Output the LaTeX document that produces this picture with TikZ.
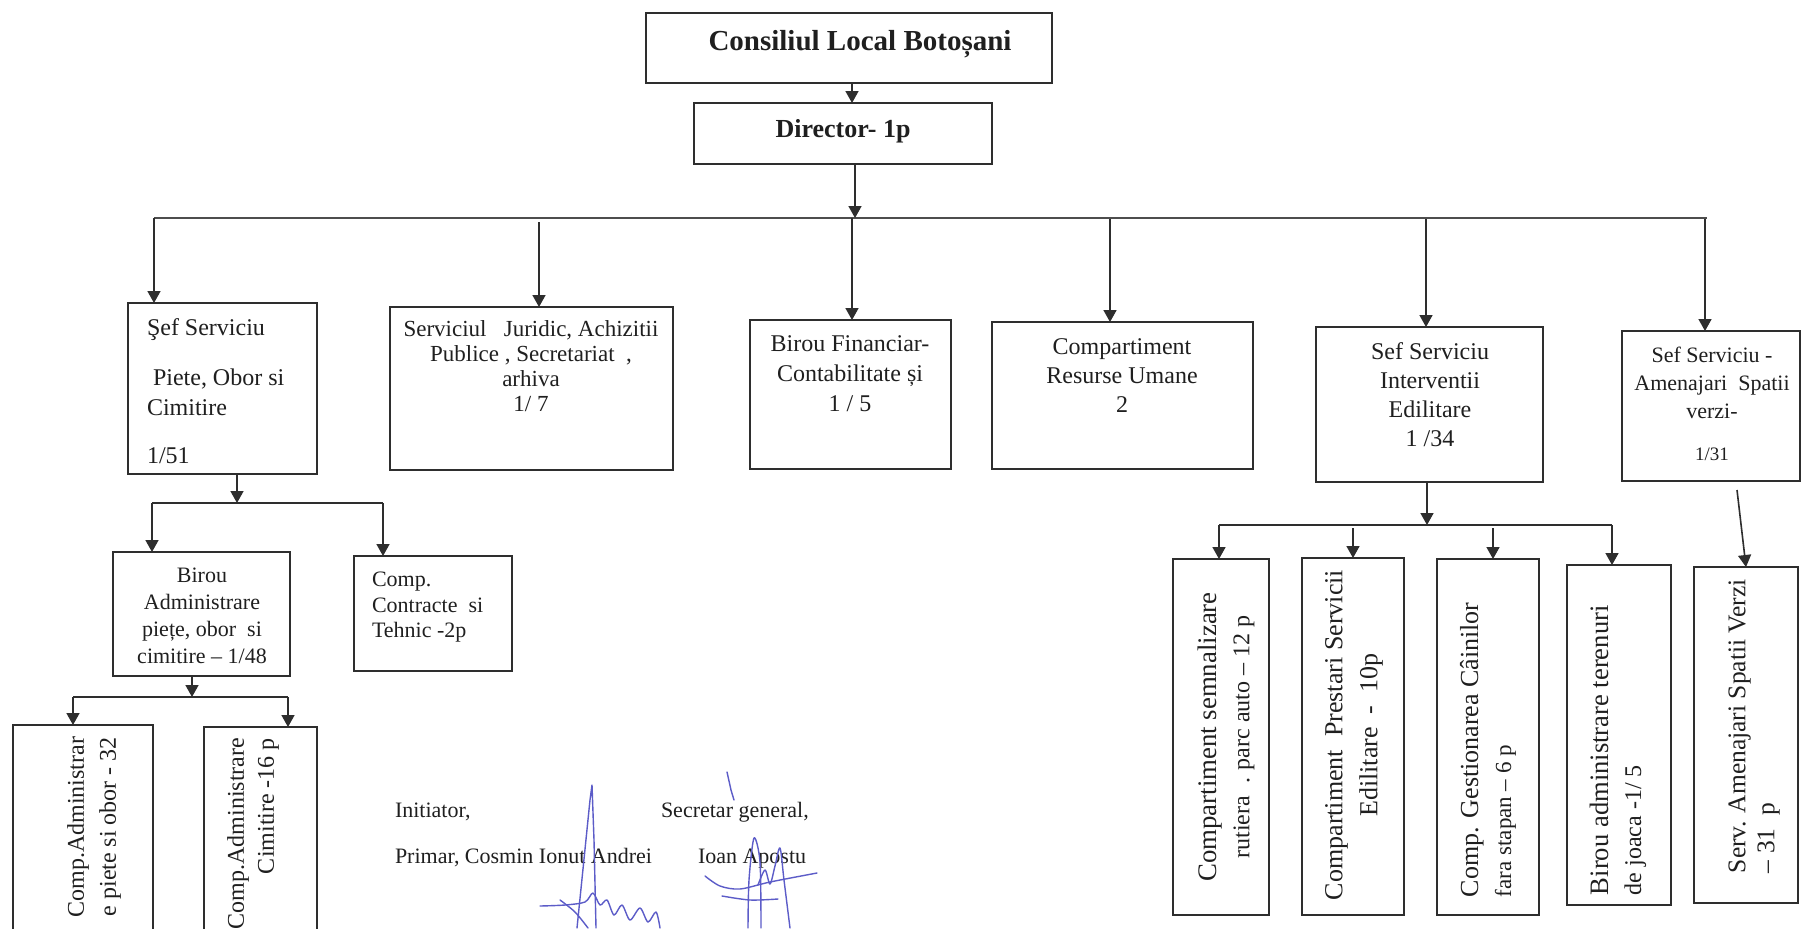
\documentclass[tikz,border=0pt]{standalone}
\usepackage{fontspec}
\setmainfont{Liberation Serif}
\usetikzlibrary{arrows.meta}
\definecolor{ink}{HTML}{2E2E2E}
\definecolor{sigblue}{RGB}{92,92,200}
\tikzset{
 box/.style={draw=ink, line width=0.9pt, inner sep=0pt, outer sep=0pt},
 arr/.style={draw=ink, line width=0.8pt, -{Triangle[width=6.5pt,length=6pt]}},
 ln/.style={draw=ink, line width=0.8pt},
 busline/.style={draw=ink!85, line width=1.3pt},
 txt/.style={inner sep=0pt, outer sep=0pt, text=black!88, font=\fontsize{12}{15}\selectfont},
 sign/.style={draw=sigblue, line width=0.7pt, line cap=round, line join=round},
}
\newcommand\boxat[5]{\node[box, minimum width={(#4-#2)*0.5pt}, minimum height={(#5-#3)*0.5pt}] (#1) at ({(#2+#4)/2},{(#3+#5)/2}) {};}
\begin{document}
\begin{tikzpicture}[x=0.5pt,y=-0.5pt]
\useasboundingbox (0,0) rectangle (1804,928);
\clip (0,0) rectangle (1804,928);
\fill[white] (0,0) rectangle (1804,928);

% ---- top
\boxat{cons}{646}{13}{1052}{83}
\node[txt, anchor=base, font=\fontsize{14.5}{17}\selectfont\bfseries] (tcons) at (860,50) {Consiliul Local Botoșani};
\boxat{dir}{694}{103}{992}{164}
\node[txt, anchor=base, font=\fontsize{13}{16}\selectfont\bfseries] (tdir) at (843,137) {Director- 1p};
\draw[arr] ([xshift=1.5pt]cons.south) -- ([xshift=1.5pt]cons.south |- dir.north);

% ---- main bus
\coordinate (busL) at (154,218);
\coordinate (busR) at (1707,218);
\draw[busline] (busL) -- (busR);
\draw[arr] ([xshift=6pt]dir.south) -- ([xshift=6pt]dir.south |- busL);

% ---- level 1 boxes
\boxat{sef}{128}{303}{317}{474}
\boxat{jur}{390}{307}{673}{470}
\boxat{fin}{750}{320}{951}{469}
\boxat{ru}{992}{322}{1253}{469}
\boxat{int}{1316}{327}{1543}{482}
\boxat{ame}{1622}{331}{1800}{481}

\coordinate (bj) at (539,222);
\coordinate (bf) at (852,218);
\coordinate (br) at (1110,219);
\coordinate (bi) at (1426,219);
\coordinate (ba) at (1705,219);
\draw[arr] (busL) -- (busL |- sef.north);
\draw[arr] (bj) -- (bj |- jur.north);
\draw[arr] (bf) -- (bf |- fin.north);
\draw[arr] (br) -- (br |- ru.north);
\draw[arr] (bi) -- (bi |- int.north);
\draw[arr] (ba) -- (ba |- ame.north);

\node[txt, anchor=north west, align=left] (tsef) at (147,318.5)
 {Şef Serviciu\\[10pt]\ Piete, Obor si\\Cimitire\\[9pt]1/51};
\node[txt, anchor=north, align=center, font=\fontsize{11.5}{12.5}\selectfont] (tjur) at (531,321)
 {Serviciul\ \ \ Juridic, Achizitii\\Publice , Secretariat\ \ ,\\arhiva\\1/ 7};
\node[txt, anchor=north, align=center] (tfin) at (850,335.5)
 {Birou Financiar-\\Contabilitate și\\1 / 5};
\node[txt, anchor=north, align=center, font=\fontsize{12}{14.5}\selectfont] (tru) at (1122,338.5)
 {Compartiment\\Resurse Umane\\2};
\node[txt, anchor=north, align=center, font=\fontsize{12}{14.5}\selectfont] (tint) at (1430,343)
 {Sef Serviciu\\Interventii\\Edilitare\\1 /34};
\node[txt, anchor=north, align=center, font=\fontsize{11}{14}\selectfont] (tame) at (1712,347)
 {Sef Serviciu -\\Amenajari\ \ Spatii\\verzi-\\[7pt]{\fontsize{9.5}{11}\selectfont 1/31}};

% ---- left branch
\coordinate (sb0) at (237,503);
\coordinate (sb1) at (152,503);
\coordinate (sb2) at (383,503);
\draw[arr] (sef.south -| sb0) -- (sb0);
\draw[ln] (sb1) -- (sb2);
\boxat{biro}{113}{552}{290}{676}
\boxat{cc}{354}{556}{512}{671}
\draw[arr] (sb1) -- (sb1 |- biro.north);
\draw[arr] (sb2) -- (sb2 |- cc.north);
\node[txt, anchor=north, align=center, font=\fontsize{11}{13.5}\selectfont] (tbiro) at (202,568)
 {Birou\\Administrare\\piețe, obor\ \ si\\cimitire – 1/48};
\node[txt, anchor=north west, align=left, font=\fontsize{11}{12.75}\selectfont] (tcc) at (372,572)
 {Comp.\\Contracte\ \ si\\Tehnic -2p};

\coordinate (bb0) at (192,697);
\coordinate (bb1) at (73,697);
\coordinate (bb2) at (288,697);
\draw[arr] (biro.south -| bb0) -- (bb0);
\draw[ln] (bb1) -- (bb2);
\boxat{ca1}{13}{725}{153}{950}
\boxat{ca2}{204}{727}{317}{950}
\draw[arr] (bb1) -- (bb1 |- ca1.north);
\draw[arr] (bb2) -- (bb2 |- ca2.north);
\node[txt, rotate=90, anchor=east, align=right, font=\fontsize{12}{16}\selectfont] (tca1) at (94,737)
 {Comp.Administrar\\e piete si obor - 32};
\node[txt, rotate=90, anchor=east, align=right, font=\fontsize{12}{15}\selectfont] (tca2) at (253,738)
 {Comp.Administrare\\Cimitire -16 p};

% ---- right branch
\coordinate (r0) at (1427,525);
\coordinate (r1) at (1219,525);
\coordinate (r2) at (1353,528);
\coordinate (r3) at (1493,528);
\coordinate (r4) at (1612,525);
\draw[arr] (int.south -| r0) -- (r0);
\draw[ln] (r1) -- (r4);
\boxat{s1}{1173}{559}{1269}{915}
\boxat{s2}{1302}{558}{1404}{915}
\boxat{s3}{1437}{559}{1539}{915}
\boxat{s4}{1567}{565}{1671}{905}
\boxat{s5}{1694}{567}{1798}{903}
\draw[arr] (r1) -- (r1 |- s1.north);
\draw[arr] (r2) -- (r2 |- s2.north);
\draw[arr] (r3) -- (r3 |- s3.north);
\draw[arr] (r4) -- (r4 |- s4.north);
\coordinate (ame0) at (1737,490);
\draw[arr] (ame0) -- (s5.north);

\node[txt, rotate=90, align=center, font=\fontsize{13.4}{16.5}\selectfont] (ts1) at (1226,737)
 {Compartiment semnalizare\\{\fontsize{12}{14}\selectfont rutiera\ \ . parc auto – 12 p}};
\node[txt, rotate=90, align=center, font=\fontsize{13}{17.5}\selectfont] (ts2) at (1354,735)
 {Compartiment\ \ Prestari Servicii\\Edilitare\ \ -\ \ 10p};
\node[txt, rotate=90, anchor=west, align=left, font=\fontsize{13}{16.5}\selectfont] (ts3) at (1488,897)
 {Comp. Gestionarea Câinilor\\{\fontsize{11.5}{13}\selectfont fara stapan – 6 p}};
\node[txt, rotate=90, anchor=west, align=left, font=\fontsize{13.3}{16.5}\selectfont] (ts4) at (1618,895)
 {Birou administrare terenuri\\{\fontsize{12}{14}\selectfont de joaca -1/ 5}};
\node[txt, rotate=90, anchor=west, align=left, font=\fontsize{12.75}{14.5}\selectfont] (ts5) at (1754,873)
 {Serv. Amenajari Spatii Verzi\\– 31\ \ p};

% ---- signatures
\node[txt, anchor=base west, font=\fontsize{11}{13}\selectfont] (ini) at (395,817) {Initiator,};
\node[txt, anchor=base west, font=\fontsize{11}{13}\selectfont] (pri) at (395,863) {Primar, Cosmin Ionut Andrei};
\node[txt, anchor=base west, font=\fontsize{11}{13}\selectfont] (sec) at (661,817) {Secretar general,};
\node[txt, anchor=base west, font=\fontsize{11}{13}\selectfont] (ioa) at (698,863) {Ioan Apostu};

\draw[sign] (577,928) -- (590,800) -- (592,785) -- (594,840) -- (596,928);
\draw[sign] plot[smooth] coordinates {(540,906) (565,905) (585,902) (593,893) (600,905) (607,900) (614,915) (622,905) (630,920) (640,908) (648,922) (656,912) (660,928)};
\draw[sign] plot[smooth] coordinates {(560,900) (575,912) (588,928)};
\draw[sign] (727,772) -- (731,790) -- (734,800);
\draw[sign] plot[smooth] coordinates {(748,928) (749,880) (754,838) (760,862) (761,928)};
\draw[sign] plot[smooth] coordinates {(705,876) (720,886) (740,889) (770,882) (817,873)};
\draw[sign] plot[smooth] coordinates {(722,896) (750,900) (778,899)};
\draw[sign] plot[smooth] coordinates {(758,885) (765,870) (770,884) (775,866) (780,848) (784,880) (790,928)};
\end{tikzpicture}
\end{document}
